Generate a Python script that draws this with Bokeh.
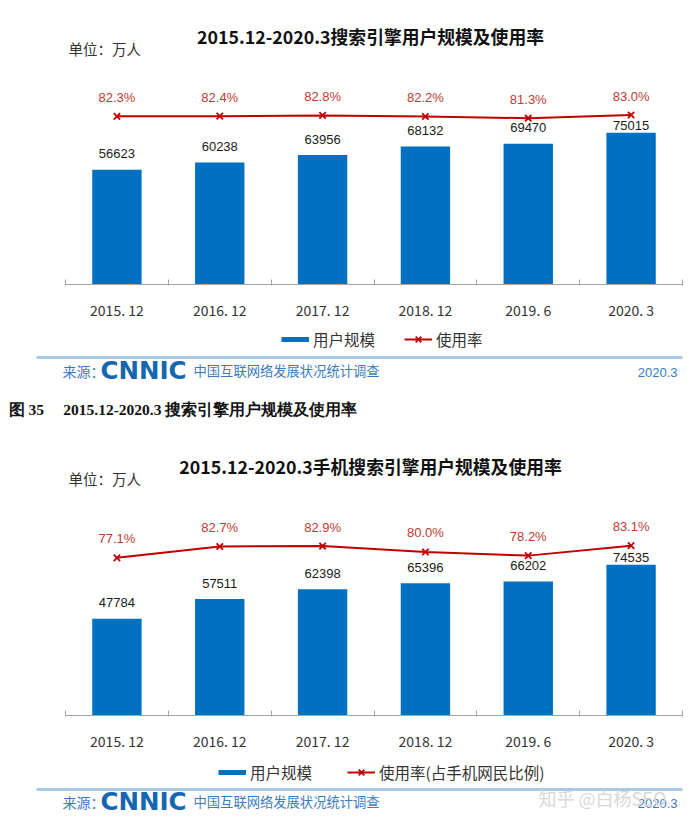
from bokeh.plotting import figure
from bokeh.models import (Range1d, FixedTicker, Label, Legend, LegendItem,
                          BoxAnnotation, ColumnDataSource)
from bokeh.layouts import column
from bokeh.embed import file_html
from bokeh.resources import INLINE
from bokeh.core.properties import value

# ---------------- data ----------------
periods = ["2015. 12", "2016. 12", "2017. 12", "2018. 12", "2019. 6", "2020. 3"]
search_users = [56623, 60238, 63956, 68132, 69470, 75015]
search_rate = [82.3, 82.4, 82.8, 82.2, 81.3, 83.0]
mobile_users = [47784, 57511, 62398, 65396, 66202, 74535]
mobile_rate = [77.1, 82.7, 82.9, 80.0, 78.2, 83.1]

title1 = "2015.12-2020.3搜索引擎用户规模及使用率"
title2 = "2015.12-2020.3手机搜索引擎用户规模及使用率"
unit_text = "单位：万人"
legend_users = "用户规模"
legend_rate1 = "使用率"
legend_rate2 = "使用率(占手机网民比例)"
source_prefix = "来源："
source_logo = "CNNIC"
source_name = "中国互联网络发展状况统计调查"
source_date = "2020.3"
caption = "图 35\u2003 2015.12-2020.3 搜索引擎用户规模及使用率"
watermark = "知乎 @白杨SEO"

W = 696
BLUE = "#0070C0"
RED = "#C00000"
PCT = "#BE3A34"
SRC = "#3A7CC2"
CJK = "Noto Sans CJK SC"


def blank(H):
    p = figure(width=W, height=H, output_backend="svg", toolbar_location=None,
               x_range=Range1d(0, W), y_range=Range1d(0, H),
               min_border=0, min_border_left=0, min_border_right=0,
               min_border_top=0, min_border_bottom=0,
               x_axis_location=None, y_axis_location=None,
               outline_line_color=None, background_fill_color="white",
               border_fill_color="white")
    p.grid.visible = False
    return p


def lab(p, x, y, text, size, color, font=CJK, style="normal", align="left"):
    p.add_layout(Label(x=x, y=y, x_units="screen", y_units="screen", text=text,
                       text_font=font, text_font_size=size, text_color=color,
                       text_font_style=style, text_align=align,
                       text_baseline="middle"))


def header(p, title, title_y, unit_y):
    lab(p, 370, title_y, title, "17.8px", "#111111", style="bold", align="center")
    lab(p, 68, unit_y, unit_text, "14.5px", "#333333")


def footer(p, rates, rate_name, leg_x, leg_y, spacing, rule_y, src_y):
    # legend keys: hidden renderers carrying the series, shown only in the legend
    idx = list(range(len(rates)))
    blue_r = p.line(x=idx, y=rates, line_color=BLUE, line_width=5, visible=False)
    red_r = p.line(x=idx, y=rates, line_color=RED, line_width=2, visible=False)
    mark_r = p.scatter(x=idx, y=rates, marker="x", size=9, line_color=RED,
                       line_width=1.8, visible=False)
    legend = Legend(items=[LegendItem(label=legend_users, renderers=[blue_r]),
                           LegendItem(label=rate_name, renderers=[red_r, mark_r])],
                    orientation="horizontal", location=(leg_x, leg_y),
                    glyph_width=28, glyph_height=20, label_height=20,
                    label_standoff=4, spacing=spacing, padding=0, margin=0,
                    border_line_color=None, background_fill_alpha=0,
                    inactive_fill_alpha=0,
                    label_text_font=CJK, label_text_font_size="15.5px",
                    label_text_color="#333333")
    p.add_layout(legend, "center")
    p.add_layout(BoxAnnotation(left=36, right=682, top=rule_y + 1.5, bottom=rule_y - 1.5,
                               left_units="screen", right_units="screen",
                               top_units="screen", bottom_units="screen",
                               fill_color="#A9C9EA", fill_alpha=1, line_color=None))
    lab(p, 62, src_y, source_prefix, "14px", SRC)
    lab(p, 100, src_y, source_logo, "24.5px", "#1567B0", font="DejaVu Sans", style="bold")
    lab(p, 193, src_y, source_name, "13.3px", SRC)
    lab(p, 677, src_y - 2, source_date, "13px", SRC, font="Liberation Sans", align="right")


def chart(users, rates, H, frame_h, rate_lo, rate_hi):
    n = len(periods)
    sp = 617 / n  # pixels per category
    centers = [i + 0.5 for i in range(n)]
    p = figure(width=W, height=H, output_backend="svg", toolbar_location=None,
               x_range=Range1d(-65 / sp, n + 14 / sp),
               y_range=Range1d(0, frame_h / 0.00209),
               min_border_left=0, min_border_right=0,
               min_border_top=0, min_border_bottom=H - frame_h,
               y_axis_location=None, outline_line_color=None,
               background_fill_color="white", border_fill_color="white")
    p.grid.visible = False
    p.extra_y_ranges = {"rate": Range1d(rate_lo, rate_hi)}

    src = ColumnDataSource(dict(
        x=centers, users=users, rate=rates,
        ulab=[str(u) for u in users],
        rlab=[f"{r:.1f}%" for r in rates],
        uoff=[-16] * (n - 1) + [-7],
    ))

    p.vbar(x="x", top="users", width=0.48, source=src,
           fill_color=BLUE, line_color=None)
    p.line(x="x", y="rate", source=src, y_range_name="rate",
           line_color=RED, line_width=2)
    p.scatter(x="x", y="rate", source=src, y_range_name="rate",
              marker="x", size=9, line_color=RED, line_width=1.8)
    p.text(x="x", y="users", text="ulab", source=src, y_offset="uoff",
           text_align="center", text_baseline="middle",
           text_font=value("Liberation Sans"), text_font_size="13px",
           text_color="#1a1a1a")
    p.text(x="x", y="rate", text="rlab", source=src, y_range_name="rate",
           y_offset=-19, text_align="center", text_baseline="middle",
           text_font=value("Liberation Sans"), text_font_size="13px",
           text_color=PCT)

    ax = p.xaxis[0]
    ax.bounds = (0, n)
    ax.ticker = FixedTicker(ticks=centers, minor_ticks=list(range(n + 1)))
    ax.major_label_overrides = {c: t for c, t in zip(centers, periods)}
    ax.major_tick_line_color = None
    ax.minor_tick_line_color = "#A6A6A6"
    ax.minor_tick_in = 5
    ax.minor_tick_out = 1
    ax.axis_line_color = "#A6A6A6"
    ax.major_label_text_font = CJK
    ax.major_label_text_font_size = "14px"
    ax.major_label_text_color = "#333333"
    ax.major_label_standoff = 9
    return p


# A: header of panel 1 (page y 0-68)
pa = blank(68)
header(pa, title1, 33, 20)

# B: chart 1 (frame page y 68-291)
pb = chart(search_users, search_rate, 254, 223, -9.1, 108.3)

# C: footer 1 + caption + header 2 (page y 322-500)
pc = blank(178)
footer(pc, search_rate, legend_rate1, 281, 150, 29, 143, 130)
lab(pc, 8, 91, caption, "15.5px", "#111111", font="Liberation Serif", style="bold")
header(pc, title2, 35, 22)

# D: chart 2 (frame page y 500-722)
pd = chart(mobile_users, mobile_rate, 253, 222, -0.4, 105.3)

# E: footer 2 (page y 753-822)
pe = blank(69)
footer(pe, mobile_rate, legend_rate2, 218, 39, 35, 33, 21)
lab(pe, 538, 25, watermark, "18px", "#D9D9D9")

layout = column(pa, pb, pc, pd, pe, spacing=0)
open("out.html", "w").write(file_html(layout, INLINE))
